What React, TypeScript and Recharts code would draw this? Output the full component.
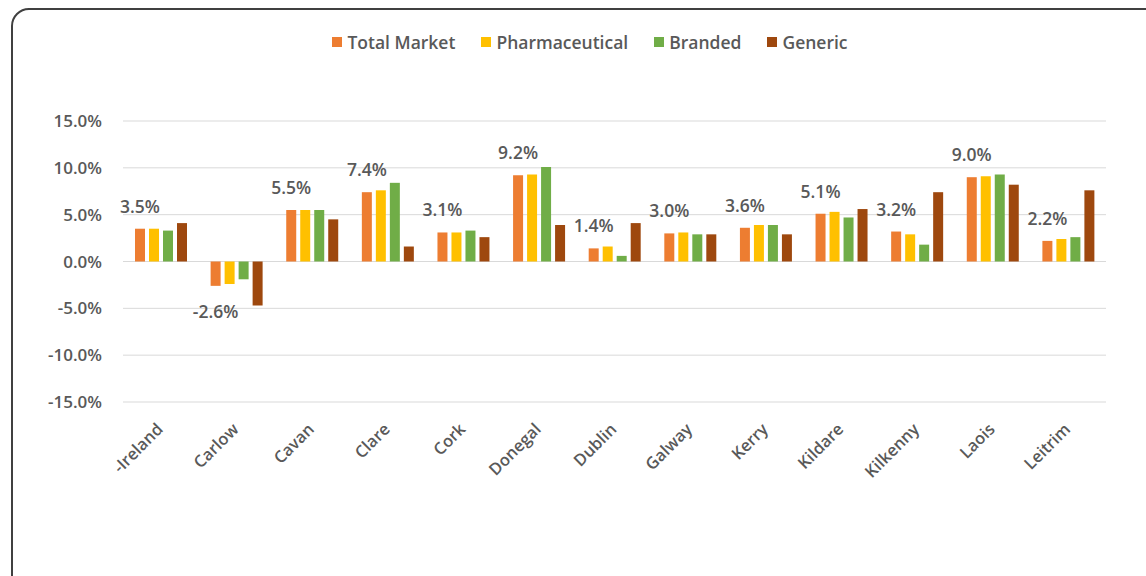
import { BarChart, Bar, XAxis, YAxis, CartesianGrid, Legend, LabelList } from "recharts";

const counties = ["-Ireland", "Carlow", "Cavan", "Clare", "Cork", "Donegal", "Dublin", "Galway", "Kerry", "Kildare", "Kilkenny", "Laois", "Leitrim"];
const totalMarket = [3.5, -2.6, 5.5, 7.4, 3.1, 9.2, 1.4, 3.0, 3.6, 5.1, 3.2, 9.0, 2.2];
const pharmaceutical = [3.5, -2.4, 5.5, 7.6, 3.1, 9.3, 1.6, 3.1, 3.9, 5.3, 2.9, 9.1, 2.4];
const branded = [3.3, -1.9, 5.5, 8.4, 3.3, 10.1, 0.6, 2.9, 3.9, 4.7, 1.8, 9.3, 2.6];
const generic = [4.1, -4.7, 4.5, 1.6, 2.6, 3.9, 4.1, 2.9, 2.9, 5.6, 7.4, 8.2, 7.6];
const yTicks = [-15, -10, -5, 0, 5, 10, 15];

const series = [
  { key: "total", name: "Total Market", color: "#ED7D31" },
  { key: "pharma", name: "Pharmaceutical", color: "#FFC000" },
  { key: "branded", name: "Branded", color: "#70AD47" },
  { key: "generic", name: "Generic", color: "#9E480E" },
];

const data = counties.map((c, i) => ({
  county: c,
  total: totalMarket[i],
  pharma: pharmaceutical[i],
  branded: branded[i],
  generic: generic[i],
}));

const FONT = "'Open Sans', sans-serif";
const GREY = "#595959";

function LegendBox() {
  return (
    <div style={{ height: 93, display: "flex", justifyContent: "center", alignItems: "flex-start", fontFamily: FONT, paddingLeft: 74 }}>
      <div style={{ display: "flex", alignItems: "center", height: 28 }}>
        {series.map((s) => (
          <span key={s.key} style={{ display: "flex", alignItems: "center", margin: "0 13px", fontSize: 17.5, fontWeight: 600, color: GREY }}>
            <span style={{ width: 10, height: 10, background: s.color, marginRight: 5, display: "inline-block" }} />
            {s.name}
          </span>
        ))}
      </div>
    </div>
  );
}

function TotalLabel(props: any) {
  const { x, y, width, height, value } = props;
  const top = Math.min(y, y + height);
  const bottom = Math.max(y, y + height);
  const cy = value >= 0 ? top - 23 : bottom + 25;
  return (
    <text x={x + width / 2} y={cy} textAnchor="middle" dominantBaseline="central" fontFamily={FONT} fontSize={17.5} fontWeight={600} fill={GREY}>
      {value.toFixed(1)}%
    </text>
  );
}

function XTick(props: any) {
  const { x, y, payload } = props;
  return (
    <g transform={`translate(${x - 1},${y + 16})`}>
      <text x={0} y={0} dy={6} textAnchor="end" transform="rotate(-45)" fontFamily={FONT} fontSize={16.5} fontWeight={600} fill={GREY}>
        {payload.value}
      </text>
    </g>
  );
}

export default function App() {
  return (
    <div style={{ position: "absolute", left: 0, top: 0, width: 1146, height: 576, overflow: "hidden", background: "#fff" }}>
      <div style={{ position: "absolute", left: 11, top: 8, width: 1160, height: 600, border: "2px solid #404040", borderRadius: 18, boxSizing: "border-box" }} />
      <div style={{ position: "absolute", left: 0, top: 0 }}>
        <BarChart width={1146} height={576} data={data} margin={{ top: 28, right: 40, bottom: 94, left: 0 }} barSize={10} barGap={4}>
          <Legend verticalAlign="top" content={() => <LegendBox />} />
          <CartesianGrid vertical={false} stroke="#d9d9d9" />
          <XAxis dataKey="county" axisLine={false} tickLine={false} interval={0} height={80} tick={<XTick />} />
          <YAxis
            domain={[-15, 15]}
            ticks={yTicks}
            width={123}
            axisLine={false}
            tickLine={false}
            tickMargin={15}
            tickFormatter={(v: number) => `${v.toFixed(1)}%`}
            tick={{ fontFamily: FONT, fontSize: 17, fontWeight: 600, fill: GREY }}
          />
          {series.map((s) => (
            <Bar key={s.key} dataKey={s.key} name={s.name} fill={s.color} isAnimationActive={false}>
              {s.key === "total" ? <LabelList dataKey="total" content={<TotalLabel />} /> : null}
            </Bar>
          ))}
        </BarChart>
      </div>
    </div>
  );
}
